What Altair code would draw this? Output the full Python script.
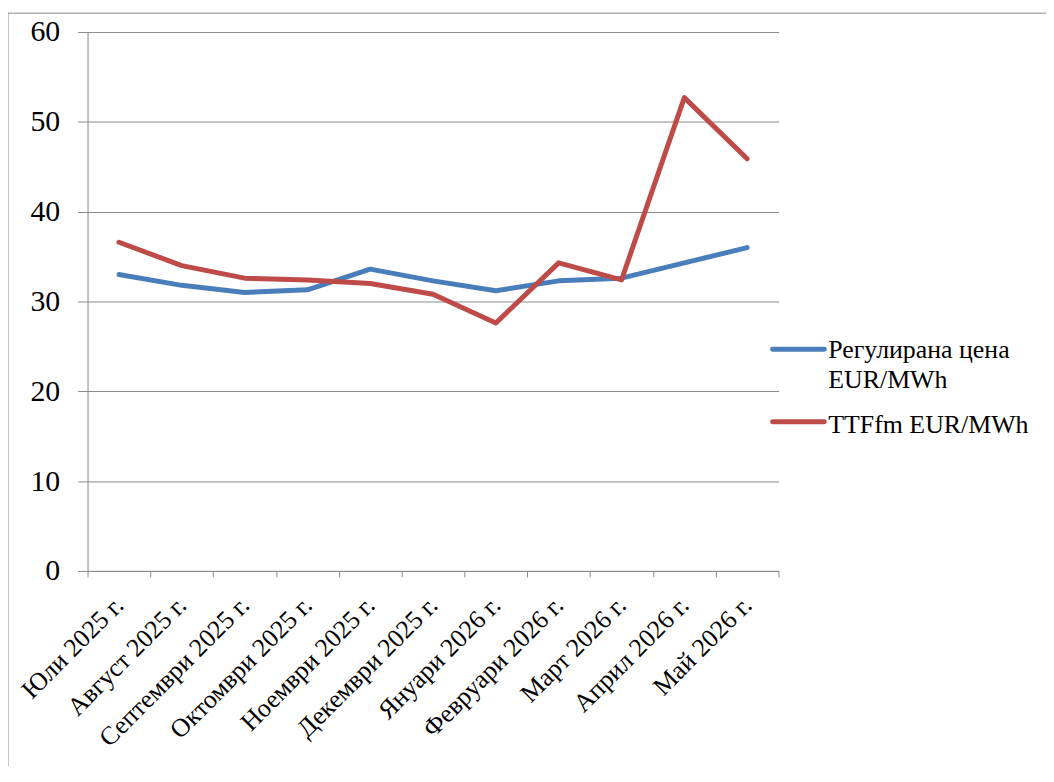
import altair as alt
import pandas as pd

months = ["Юли 2025 г.", "Август 2025 г.", "Септември 2025 г.", "Октомври 2025 г.",
          "Ноември 2025 г.", "Декември 2025 г.", "Януари 2026 г.", "Февруари 2026 г.",
          "Март 2026 г.", "Април 2026 г.", "Май 2026 г."]
regulated = [33.0, 31.8, 31.0, 31.3, 33.6, 32.3, 31.2, 32.3, 32.6, 34.3, 36.0]
ttf = [36.6, 34.0, 32.6, 32.4, 32.0, 30.8, 27.6, 34.3, 32.4, 52.7, 45.9]
series_names = ["Регулирана цена EUR/MWh", "TTFfm EUR/MWh"]
series_colors = ["#4a7ebb", "#be4b48"]
y_ticks = [0, 10, 20, 30, 40, 50, 60]

FONT = "Liberation Serif, Times New Roman, serif"
GRAY = "#898989"

rows = []
for name, vals in zip(series_names, [regulated, ttf]):
    for i, (m, v) in enumerate(zip(months, vals)):
        rows.append({"month": m, "value": v, "series": name, "order": i})
df = pd.DataFrame(rows)

W, H = 695, 542

lines = alt.Chart(df).mark_line(strokeWidth=5, strokeCap="round", strokeJoin="round").encode(
    x=alt.X("month:N", sort=months, title=None,
            scale=alt.Scale(paddingInner=0, paddingOuter=0),
            axis=alt.Axis(labelAngle=-45, labelAlign="right", labelBaseline="middle",
                          labelPadding=24, tickSize=6, tickBand="extent",
                          labelFontSize=26, grid=False,
                          labelOverlap=False, labelLimit=400)),
    y=alt.Y("value:Q", title=None,
            scale=alt.Scale(domain=[0, 60], nice=False, zero=True),
            axis=alt.Axis(values=y_ticks, tickSize=10, labelPadding=18,
                          labelFontSize=30, grid=True)),
    color=alt.Color("series:N", scale=alt.Scale(domain=series_names, range=series_colors),
                    legend=None),
    order="order:Q",
)

# frame around the chart (decoration)
frame = alt.Chart(pd.DataFrame({"a": [0]})).mark_rect(
    fillOpacity=0, stroke=GRAY, strokeWidth=1
).encode(x=alt.value(-80), x2=alt.value(1200), y=alt.value(-19), y2=alt.value(900))

# manual legend
leg_blue_sym = alt.Chart(pd.DataFrame({"a": [0]})).mark_rule(
    color=series_colors[0], strokeWidth=5, strokeCap="round"
).encode(x=alt.value(689), x2=alt.value(741), y=alt.value(319))
leg_red_sym = alt.Chart(pd.DataFrame({"a": [0]})).mark_rule(
    color=series_colors[1], strokeWidth=5, strokeCap="round"
).encode(x=alt.value(689), x2=alt.value(741), y=alt.value(392))
leg_blue_txt = alt.Chart(pd.DataFrame({"a": [0]})).mark_text(
    text=["Регулирана цена", "EUR/MWh"], font=FONT, fontSize=26, color="black",
    align="left", baseline="alphabetic", lineHeight=30
).encode(x=alt.value(745), y=alt.value(328))
leg_red_txt = alt.Chart(pd.DataFrame({"a": [0]})).mark_text(
    text="TTFfm EUR/MWh", font=FONT, fontSize=26, color="black",
    align="left", baseline="alphabetic"
).encode(x=alt.value(745), y=alt.value(403))

chart = alt.layer(frame, lines, leg_blue_sym, leg_red_sym, leg_blue_txt, leg_red_txt).properties(
    width=W, height=H,
    background="white",
    autosize=alt.AutoSizeParams(type="none"),
    padding={"left": 80, "top": 22, "right": 269, "bottom": 194},
).configure_view(stroke=None).configure_axis(
    labelFont=FONT, labelColor="black", domainColor=GRAY, tickColor=GRAY,
    gridColor=GRAY, gridOpacity=1, domainWidth=1, tickWidth=1, gridWidth=1
)

chart.save("out.html", embed_options={"renderer": "svg", "actions": False})
